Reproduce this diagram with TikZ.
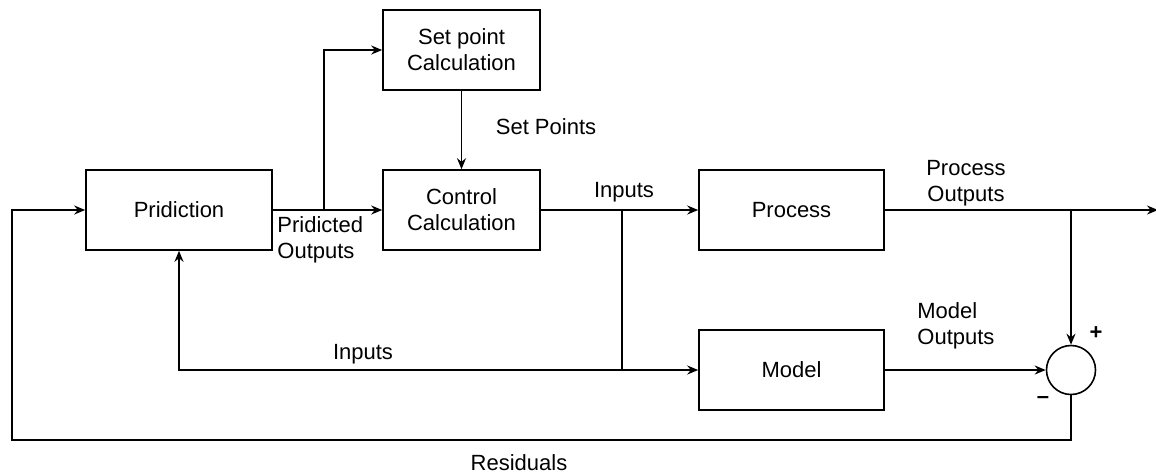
\documentclass[tikz,border=0pt]{standalone}
\usepackage{fontspec}
\setmainfont{Liberation Sans}
\usetikzlibrary{arrows.meta}
\begin{document}
\begin{tikzpicture}[x=0.5pt,y=-0.5pt,
  every node/.style={font=\fontsize{11}{13}\selectfont},
  blk/.style={draw,line width=0.8pt,minimum width=93pt,minimum height=40pt,align=center,inner sep=0pt},
  lbl/.style={inner sep=0pt,align=left},
  conn/.style={line width=0.8pt,-{Stealth[length=5.5pt,width=4.5pt]}},
  line/.style={line width=0.8pt}]
\useasboundingbox (0,0) rectangle (1156,473);
\node[blk,minimum width=93pt] (pred) at (179,210) {Pridiction};
\node[blk,minimum width=78.5pt] (sp) at (461.5,50) {Set point\\Calculation};
\node[blk,minimum width=78.5pt] (cc) at (461.5,210) {Control\\Calculation};
\node[blk,minimum width=92.5pt] (proc) at (791.5,210) {Process};
\node[blk,minimum width=92.5pt] (model) at (791.5,370) {Model};
\node[draw,line width=0.8pt,circle,minimum size=24.5pt,inner sep=0pt] (sum) at (1071,370) {};

\coordinate (b1) at (324,210);
\coordinate (b2) at (622,210);
\coordinate (b3) at (622,370);
\coordinate (b4) at (1071,210);
\coordinate (out) at (1158,210);
\coordinate (r1) at (1071,440);
\coordinate (r2) at (12,440);
\coordinate (r3) at (12,210);

\draw[conn] (pred.east) -- (cc.west);
\draw[conn] (b1) |- (sp.west);
\draw[conn] (sp.south) -- (cc.north);
\draw[conn] (cc.east) -- (proc.west);
\draw[line] (b2) -- (b3);
\draw[conn] (b3) -- (model.west);
\draw[conn] (b3) -| (pred.south);
\draw[conn] (proc.east) -- (out);
\draw[conn] (b4) -- (sum.north);
\draw[conn] (model.east) -- (sum.west);
\draw[conn] (sum.south) -- (r1) -- (r2) -- (r3) -- (pred.west);

\node[lbl,anchor=west] (lpo) at (277,240) {Pridicted\\Outputs};
\node[lbl] (lsp) at (546,127) {Set Points};
\node[lbl] (lin1) at (624,192) {Inputs};
\node[lbl,align=center] (lpro) at (966,183) {Process\\Outputs};
\node[lbl,anchor=west] (lmo) at (917,326) {Model\\Outputs};
\node[lbl] (lin2) at (363,354) {Inputs};
\node[lbl] (lres) at (519,463) {Residuals};
\node[lbl,font=\fontsize{11}{13}\selectfont\bfseries] (plus) at (1096,333) {+};
\node[lbl,font=\fontsize{11}{13}\selectfont\bfseries] (minus) at (1043,400) {--};
\end{tikzpicture}
\end{document}
